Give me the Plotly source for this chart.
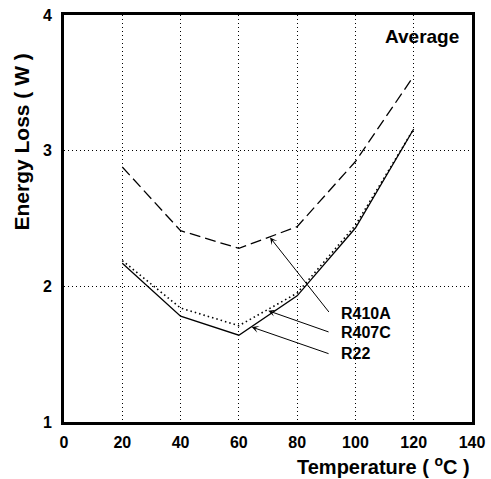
import plotly.graph_objects as go

temps = [20, 40, 60, 80, 100, 120]
r410a = [2.88, 2.41, 2.28, 2.44, 2.92, 3.55]
r407c = [2.19, 1.84, 1.71, 1.95, 2.45, 3.16]
r22 = [2.17, 1.78, 1.64, 1.93, 2.43, 3.16]

labels = ["R410A", "R407C", "R22"]
arrow_tips_x = [70.7, 70.1, 64.4]
arrow_tips_y = [2.36, 1.82, 1.70]
arrow_tails_x = [91.3, 91.3, 91.3]
arrow_tails_y = [1.80, 1.66, 1.50]
label_x = [94.5, 94.5, 94.5]
label_y = [1.80, 1.66, 1.505]

FONT = "Liberation Sans, Arial, sans-serif"
SP = "&nbsp;"

fig = go.Figure()
fig.add_trace(go.Scatter(x=temps, y=r410a, mode="lines", name="R410A",
                         line=dict(color="black", width=1.3, dash="11px,5px")))
fig.add_trace(go.Scatter(x=temps, y=r407c, mode="lines", name="R407C",
                         line=dict(color="black", width=1.6, dash="1.5px,3px")))
fig.add_trace(go.Scatter(x=temps, y=r22, mode="lines", name="R22",
                         line=dict(color="black", width=1.3)))

annotations = []
for lab, tx, ty, ax, ay, lx, ly in zip(labels, arrow_tips_x, arrow_tips_y,
                                        arrow_tails_x, arrow_tails_y, label_x, label_y):
    annotations.append(dict(x=tx, y=ty, ax=ax, ay=ay, xref="x", yref="y",
                            axref="x", ayref="y", text="", showarrow=True,
                            arrowhead=3, arrowsize=1.2, arrowwidth=1, arrowcolor="black"))
    annotations.append(dict(x=lx, y=ly, xref="x", yref="y", text="<b>%s</b>" % lab,
                            showarrow=False, xanchor="left", yanchor="middle",
                            font=dict(family=FONT, size=16, color="black")))

annotations.append(dict(x=136.3, y=3.84, xref="x", yref="y", text="<b>Average</b>",
                        showarrow=False, xanchor="right", yanchor="middle",
                        font=dict(family=FONT, size=19, color="black")))
annotations.append(dict(x=1.0, y=-0.107, xref="paper", yref="paper",
                        text="<b>Temperature" + SP + "(" + SP + "<sup>o</sup>C" + SP + ")</b>",
                        showarrow=False, xanchor="right", yanchor="middle",
                        font=dict(family=FONT, size=20, color="black")))
annotations.append(dict(x=-0.105, y=0.687, xref="paper", yref="paper",
                        text="<b>Energy Loss" + SP + "(" + SP + "W" + SP + ")</b>",
                        textangle=-90,
                        showarrow=False, xanchor="center", yanchor="middle",
                        font=dict(family=FONT, size=21, color="black")))

fig.update_layout(
    width=491, height=479,
    margin=dict(l=64, r=19, t=15, b=57, autoexpand=False),
    paper_bgcolor="white", plot_bgcolor="white",
    showlegend=False,
    annotations=annotations,
    font=dict(family=FONT, color="black"),
)
fig.update_xaxes(range=[0, 140], dtick=20, tick0=0, showgrid=True, gridcolor="black",
                 gridwidth=1, griddash="1px,3px", showline=True, linecolor="black",
                 linewidth=3, mirror=True, ticks="", zeroline=False, automargin=False,
                 ticklabeloverflow="allow",
                 tickfont=dict(family=FONT, size=16, color="black"),
                 tickprefix="<b>", ticksuffix="</b>", ticklabelstandoff=4)
fig.update_yaxes(range=[1, 4], dtick=1, tick0=1, showgrid=True, gridcolor="black",
                 gridwidth=1, griddash="1px,3px", showline=True, linecolor="black",
                 linewidth=3, mirror=True, ticks="", zeroline=False, automargin=False,
                 ticklabeloverflow="allow",
                 tickfont=dict(family=FONT, size=16, color="black"),
                 tickprefix="<b>", ticksuffix="</b>", ticklabelstandoff=6)

# remove the default 8px page margin so the figure sits at the window's top-left
fig.write_html("out.html", config={"displayModeBar": False},
               post_script="document.body.style.margin='0px';")
